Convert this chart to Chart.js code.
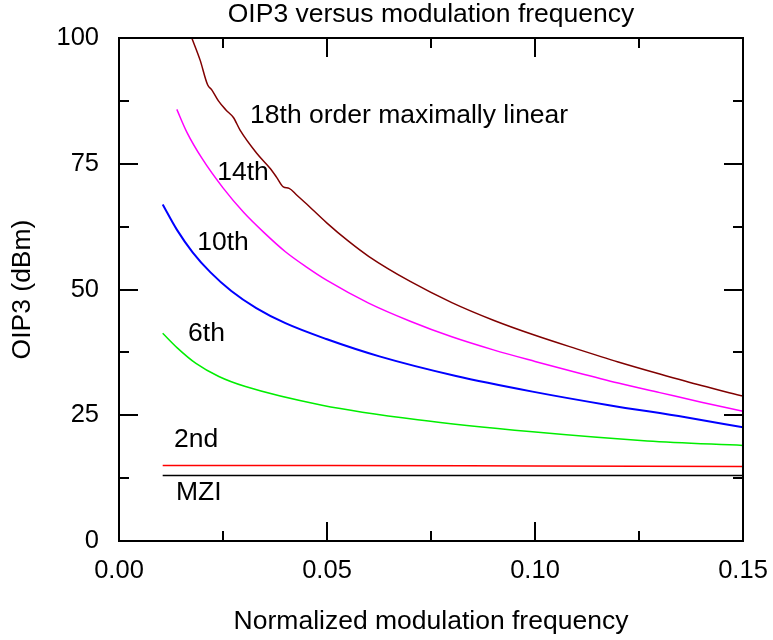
<!DOCTYPE html>
<html>
<head>
<meta charset="utf-8">
<script src="https://cdn.jsdelivr.net/npm/chart.js@4.4.1/dist/chart.umd.min.js"></script>
<style>
  html,body{margin:0;padding:0;background:#fff;}
  #wrap{width:773px;height:640px;}
</style>
</head>
<body>
<div id="wrap"><canvas id="c" width="773" height="640"></canvas></div>
<script>
/* ===== data (x = normalized modulation frequency, y = OIP3 dBm) ===== */
const ord18X = [0.0175,0.0195,0.0213,0.0223,0.0239,0.0257,0.0275,0.0291,0.0331,0.0363,0.0379,0.0395,0.0409,0.0427,0.0447,0.05,0.055,0.06,0.07,0.08,0.09,0.1,0.11,0.12,0.13,0.14,0.15];
const ord18Y = [100,95.6,90.7,89.7,87.5,85.7,84.2,81.7,77.1,74.1,72.3,70.4,70.1,68.8,67.3,63.2,59.7,56.6,51.6,47.4,43.9,40.9,38.2,35.6,33.2,30.9,28.8];

const ord14X = [0.0139,0.0163,0.02,0.025,0.03,0.035,0.04,0.045,0.05,0.06,0.07,0.08,0.09,0.1,0.11,0.12,0.13,0.14,0.15];
const ord14Y = [85.8,81.3,76.0,70.2,65.3,61.2,57.5,54.5,51.8,47.3,43.7,40.6,38.0,35.7,33.5,31.4,29.5,27.6,25.8];

const ord10X = [0.0105,0.0139,0.0177,0.022,0.027,0.033,0.04,0.05,0.0626,0.081,0.0994,0.1178,0.1362,0.15];
const ord10Y = [66.9,61.9,57.4,53.4,49.7,46.3,43.3,40.1,36.7,32.8,29.7,27.0,24.6,22.6];

const ord6X = [0.0105,0.014,0.0185,0.024,0.0304,0.0488,0.0718,0.0994,0.127,0.15];
const ord6Y = [41.3,38.4,35.3,32.7,30.7,27.0,24.1,21.7,19.9,19.0];

const ord2X = [0.0105,0.05,0.1,0.15];
const ord2Y = [15.0,15.0,14.9,14.8];

const mziX = [0.0105,0.15];
const mziY = [13,13];

const xLabelVals = [0,0.05,0.10,0.15];
const yLabelVals = [0,25,50,75,100];
const xTickVals = [0,0.025,0.05,0.075,0.1,0.125,0.15];
const yTickVals = [0,12.5,25,37.5,50,62.5,75,87.5,100];

// curve names, placed in data units
const notes = [
  {t:'18th order maximally linear', x:0.0315, y:84.5},
  {t:'14th', x:0.0236, y:73.2},
  {t:'10th', x:0.0188, y:59.4},
  {t:'6th',  x:0.0166, y:41.2},
  {t:'2nd',  x:0.0132, y:20.1},
  {t:'MZI',  x:0.0137, y:9.7}
];
const TITLE = 'OIP3 versus modulation frequency';

/* ===== helpers ===== */
const FONT = '"Liberation Sans", Arial, Helvetica, sans-serif';
const pts = (xs,ys)=>xs.map((x,i)=>({x, y:ys[i]}));
const mk = (d,c,w)=>({data:d, borderColor:c, borderWidth:w||1.5, pointRadius:0, fill:false, cubicInterpolationMode:'monotone'});

// frame, inward ticks on all four sides, title and curve names
const deco = {
  id:'deco',
  afterDraw(ch){
    const ctx = ch.ctx, a = ch.chartArea, sx = ch.scales.x, sy = ch.scales.y;
    ctx.save();
    ctx.strokeStyle = '#000'; ctx.lineWidth = 2;
    ctx.beginPath();
    xTickVals.forEach(v=>{
      const p = Math.round(sx.getPixelForValue(v));
      const len = Math.abs(v/0.05 - Math.round(v/0.05)) < 1e-6 ? 19 : 10;
      ctx.moveTo(p, a.bottom); ctx.lineTo(p, a.bottom-len);
      ctx.moveTo(p, a.top); ctx.lineTo(p, a.top+len);
    });
    yTickVals.forEach(v=>{
      const p = Math.round(sy.getPixelForValue(v));
      const len = v % 25 === 0 ? 19 : 10;
      ctx.moveTo(a.left, p); ctx.lineTo(a.left+len, p);
      ctx.moveTo(a.right, p); ctx.lineTo(a.right-len, p);
    });
    ctx.stroke();
    ctx.strokeRect(a.left, a.top, a.right-a.left, a.bottom-a.top);

    ctx.fillStyle = '#000';
    ctx.font = '26.5px '+FONT;
    ctx.textAlign = 'center'; ctx.textBaseline = 'middle';
    ctx.fillText(TITLE, (a.left+a.right)/2, 15);

    ctx.textAlign = 'left';
    notes.forEach(n=>ctx.fillText(n.t, sx.getPixelForValue(n.x), sy.getPixelForValue(n.y)));
    ctx.restore();
  }
};

new Chart(document.getElementById('c'), {
  type:'line',
  data:{datasets:[
    mk(pts(ord18X,ord18Y), '#800000'),
    mk(pts(ord14X,ord14Y), '#ff00ff'),
    mk(pts(ord10X,ord10Y), '#0000ff', 2),
    mk(pts(ord6X,ord6Y),   '#00ee00'),
    mk(pts(ord2X,ord2Y),   '#ff0000'),
    mk(pts(mziX,mziY),     '#000000')
  ]},
  options:{
    responsive:false, animation:false,
    layout:{padding:{left:0, right:30, top:38, bottom:0}},
    plugins:{legend:{display:false}, tooltip:{enabled:false}},
    scales:{
      x:{
        type:'linear', min:0, max:0.15,
        grid:{display:false, drawTicks:false}, border:{display:false},
        afterBuildTicks:s=>{ s.ticks = xLabelVals.map(v=>({value:v})); },
        afterFit:s=>{ s.height = 99; s.paddingLeft = 0; s.paddingRight = 0; },
        ticks:{padding:15, color:'#000', font:{family:FONT, size:25.5}, maxRotation:0, autoSkip:false,
               callback:v=>(+v).toFixed(2)},
        title:{display:true, text:'Normalized modulation frequency', color:'#000',
               font:{family:FONT, size:26.5}, padding:2}
      },
      y:{
        type:'linear', min:0, max:100,
        grid:{display:false, drawTicks:false}, border:{display:false},
        afterBuildTicks:s=>{ s.ticks = yLabelVals.map(v=>({value:v})); },
        afterFit:s=>{ s.width = 119; },
        ticks:{padding:20, color:'#000', font:{family:FONT, size:25.5}},
        title:{display:true, text:'OIP3 (dBm)', color:'#000',
               font:{family:FONT, size:26.5}, padding:7}
      }
    }
  },
  plugins:[deco]
});
</script>
</body>
</html>
